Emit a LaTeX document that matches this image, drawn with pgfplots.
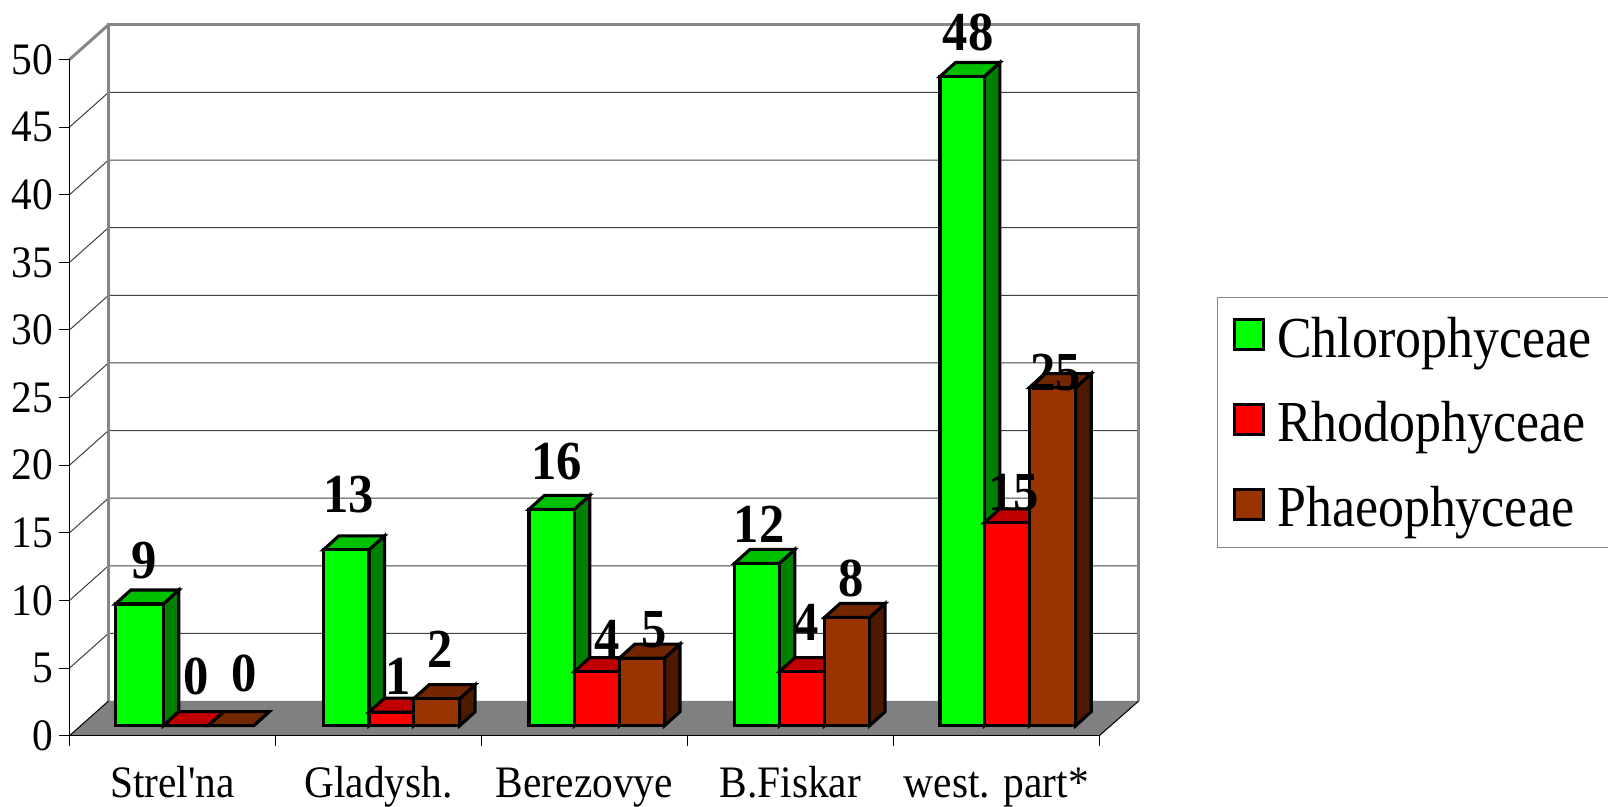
\documentclass[border=0pt]{standalone}
\usepackage{fontspec}
\usepackage{pgfplots}
\pgfplotsset{compat=1.18}
\newfontfamily\lab[FakeStretch=0.92]{Liberation Serif}
\newfontfamily\leg[FakeStretch=0.895]{Liberation Serif}
\definecolor{gA}{HTML}{00FF00}\definecolor{gB}{HTML}{00C000}\definecolor{gC}{HTML}{008000}
\definecolor{rA}{HTML}{FF0000}\definecolor{rB}{HTML}{C00000}\definecolor{rC}{HTML}{800000}
\definecolor{bA}{HTML}{993300}\definecolor{bB}{HTML}{732600}\definecolor{bC}{HTML}{4D1A00}
\definecolor{wall}{HTML}{868686}\definecolor{floorc}{HTML}{808080}
% one 3D bar: left, right, value, colour prefix
\newcommand{\threedbar}[4]{%
  \pgfmathsetmacro\yb{0.74}\pgfmathsetmacro\yt{#3+0.74}%
  \pgfmathsetmacro\ybb{\yb+1.035}\pgfmathsetmacro\ytb{\yt+1.035}%
  \pgfmathsetmacro\xa{#1+15.5}\pgfmathsetmacro\xb{#2+15.5}%
  \addplot[forget plot,fill=#4C,draw=black,line width=3.1bp,line join=miter] coordinates {(#2,\yb)(\xb,\ybb)(\xb,\ytb)(#2,\yt)} -- cycle;
  \addplot[forget plot,fill=#4B,draw=black,line width=3.1bp,line join=miter] coordinates {(#1,\yt)(\xa,\ytb)(\xb,\ytb)(#2,\yt)} -- cycle;
  \addplot[forget plot,fill=#4A,draw=black,line width=3.1bp,line join=miter] coordinates {(#1,\yb)(#1,\yt)(#2,\yt)(#2,\yb)} -- cycle;
}
\newcommand{\gridl}[1]{%
  \pgfmathsetmacro\yy{#1+2.566}%
  \addplot[forget plot,black!75,line width=1bp] coordinates {(69.5,#1)(108.5,\yy)(1138.7,\yy)};
}
\begin{document}
\begin{tikzpicture}
\path[use as bounding box] (-69.5bp,-71.3bp) rectangle (1538.5bp,735.7bp);
\begin{axis}[
  at={(0,0)},anchor=south west,
  scale only axis,width=1029.8bp,height=676.2bp,
  xmin=69.5,xmax=1099.3,ymin=0,ymax=50,
  clip=false,axis on top,
  axis lines=left,
  axis line style={-,black,line width=1.2bp},
  tick align=outside,major tick length=10bp,
  tick style={black,line width=1bp},
  xtick={69.5,275.46,481.42,687.38,893.34,1099.3},
  x tick label as interval,
  xticklabels={Strel'na,Gladysh.,Berezovye,B.Fiskar,west. part*},
  ytick={0,5,...,50},
  /pgf/number format/assume math mode=true,
  tick label style={font=\fontsize{45bp}{45bp}\selectfont\lab},
  x tick label style={anchor=base,yshift=-52bp},
  y tick label style={xshift=-3bp},
  legend style={at={(1.1143,0.6492)},anchor=north west,draw=wall,line width=1.2bp,
    font=\fontsize{58bp}{58bp}\selectfont\leg,
    inner xsep=15bp,inner ysep=17.5bp,/tikz/row sep=39bp,
    nodes={yshift=-3bp},
    cells={anchor=west}},
  legend image code/.code={\draw[#1] (0bp,-15bp) rectangle (29bp,15bp);\path (39.5bp,0bp);},
]
\addlegendimage{fill=gA,draw=black,line width=3.1bp}\addlegendentry{Chlorophyceae\hspace*{25bp}}
\addlegendimage{fill=rA,draw=black,line width=3.1bp}\addlegendentry{Rhodophyceae}
\addlegendimage{fill=bA,draw=black,line width=3.1bp}\addlegendentry{Phaeophyceae}
% floor and walls
\addplot[forget plot,fill=floorc,draw=none] coordinates {(69.5,0)(108.5,2.566)(1138.7,2.566)(1099.3,0)} -- cycle;
\gridl{5}\gridl{10}\gridl{15}\gridl{20}\gridl{25}\gridl{30}\gridl{35}\gridl{40}\gridl{45}
\addplot[forget plot,black,line width=1bp] coordinates {(69.5,0)(108.5,2.566)};
\addplot[forget plot,black,line width=1bp] coordinates {(1099.3,0)(1138.7,2.566)};
\addplot[forget plot,wall,line width=3bp,line join=miter] coordinates {(108.5,2.566)(108.5,52.566)(1138.7,52.566)(1138.7,2.566)};
\addplot[forget plot,wall,line width=3bp] coordinates {(69.5,50)(108.5,52.566)};
% bars: Chlorophyceae, Rhodophyceae, Phaeophyceae
\threedbar{115.4}{163.3}{9}{g}\threedbar{163.3}{208.3}{0}{r}\threedbar{208.3}{253.7}{0}{b}
\threedbar{323.3}{369.0}{13}{g}\threedbar{369.0}{413.7}{1}{r}\threedbar{413.7}{459.7}{2}{b}
\threedbar{529.0}{574.3}{16}{g}\threedbar{574.3}{619.4}{4}{r}\threedbar{619.4}{664.5}{5}{b}
\threedbar{734.5}{779.4}{12}{g}\threedbar{779.4}{824.5}{4}{r}\threedbar{824.5}{869.6}{8}{b}
\threedbar{940.0}{984.3}{48}{g}\threedbar{984.3}{1029.3}{15}{r}\threedbar{1029.3}{1075.7}{25}{b}
% value labels
\addplot[forget plot,draw=none,mark=none,
  nodes near coords,point meta=explicit symbolic,
  nodes near coords style={anchor=center,inner sep=0pt,black,font=\fontsize{55bp}{55bp}\selectfont\lab\bfseries}]
 coordinates {
 (144.3,12.92)[9] (195.7,4.41)[0] (244.3,4.58)[0]
 (348.7,17.80)[13] (398,4.41)[1] (440,6.41)[2]
 (557,20.27)[16] (607,7.22)[4] (654.3,7.82)[5]
 (759,15.65)[12] (806,8.37)[4] (851,11.66)[8]
 (968,52.03)[48] (1013.7,17.98)[15] (1055.5,26.83)[25]
 };
\end{axis}
\end{tikzpicture}
\end{document}
